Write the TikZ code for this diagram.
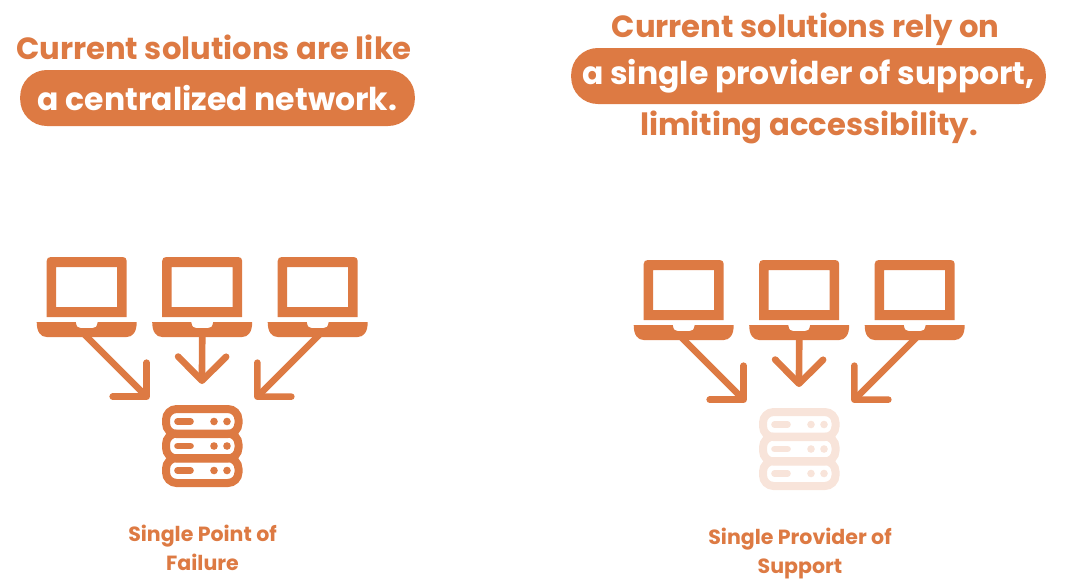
\documentclass[tikz,border=0pt]{standalone}
\usepackage{fontspec}
\setmainfont{Poppins}
\usetikzlibrary{arrows.meta}
\definecolor{brand}{RGB}{221,122,67}
\definecolor{brandfade}{RGB}{248,228,218}
\tikzset{flow/.style={brand,line width=5pt,line cap=round,
  -{Straight Barb[length=18pt,width=36pt,round]}},
 headline/.style={brand,font=\bfseries\fontsize{23}{26}\selectfont,anchor=base,inner sep=0pt},
 pilltext/.style={white,fill=brand,rounded corners=20pt,font=\bfseries\fontsize{23.6}{26}\selectfont,
  minimum height=42pt,inner sep=0pt},
 caption/.style={brand,font=\bfseries\fontsize{15.4}{18}\selectfont,anchor=base,inner sep=0pt},
 pics/laptop/.style={code={
  \fill[brand,even odd rule] (0,60) -- (0,4) .. controls (0,1.5) and (1.5,0) .. (4,0) -- (76,0)
    .. controls (78.5,0) and (80,1.5) .. (80,4) -- (80,60) -- cycle (9.5,10) rectangle (70.5,50);
  \fill[brand] (-10,65) -- (29,65) .. controls (30,70) and (31,71) .. (34,71) -- (46,71)
    .. controls (49,71) and (50,70) .. (51,65) -- (90,65) .. controls (90,75) and (86,80) .. (80,80)
    -- (0,80) .. controls (-6,80) and (-10,75) .. (-10,65) -- cycle;
  \coordinate (-outl) at (38.3,78);
  \coordinate (-outm) at (40,78);
  \coordinate (-outr) at (41.3,78);}},
 pics/server/.style={code={
  \foreach \row in {0,24.5,49}{
   \draw[#1,line width=6pt,rounded corners=8pt] (4,4+\row) rectangle (76.5,29+\row);
   \draw[#1,line width=5pt,line cap=round] (15.5,16.5+\row) -- (28.5,16.5+\row);
   \fill[#1] (52,16.5+\row) circle (3.8) (65,16.5+\row) circle (3.8);}
  \coordinate (-inl) at (-13,-6);
  \coordinate (-inm) at (40,-21);
  \coordinate (-inr) at (93,-6);}}}
\begin{document}
\begin{tikzpicture}[x=.75pt,y=-.75pt]
\useasboundingbox (0,0) rectangle (1069,586);
\foreach \g/\dx/\dy/\srv in {a/0/0/brand,b/597/3/brandfade}{
 \begin{scope}[shift={(\dx,\dy)}]
 \pic (\g1) at (46.7,257) {laptop};
 \pic (\g2) at (162.2,257) {laptop};
 \pic (\g3) at (277.7,257) {laptop};
 \pic (\g s) at (162,405) {server=\srv};
 \draw[flow] (\g1-outl) -- (\g s-inl);
 \draw[flow] (\g2-outm) -- (\g s-inm);
 \draw[flow] (\g3-outr) -- (\g s-inr);
 \end{scope}}
% left texts
\node[headline] (lefttop) at (214,59) {Current solutions are like};
\node[pilltext,minimum width=296pt] (leftpill) at (217.5,98) {a centralized network.};
\node[caption] (leftcap) at (202.5,541) {Single Point of};
\node[caption] (leftcap2) at (202.5,570) {Failure};
% right texts
\node[headline] (righttop) at (805.5,37) {Current solutions rely on};
\node[pilltext,minimum width=356pt] (rightpill) at (808.5,76) {a single provider of support,};
\node[headline] (rightlow) at (809,135) {limiting accessibility.};
\node[caption] (rightcap) at (800,544) {Single Provider of};
\node[caption] (rightcap2) at (800,573) {Support};
\end{tikzpicture}
\end{document}
